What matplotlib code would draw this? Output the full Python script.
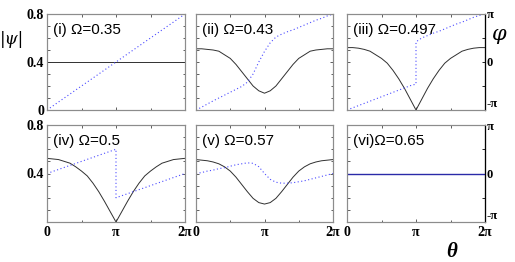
import numpy as np
import matplotlib
matplotlib.use("Agg")
import matplotlib.pyplot as plt
from matplotlib.ticker import FixedLocator, MultipleLocator

theta = np.arange(25) * np.pi / 12
# grid with a doubled point at pi for the phase jumps
theta_j = np.concatenate([theta[:13], theta[12:]])

omega_labels = ["(i) Ω=0.35", "(ii) Ω=0.43", "(iii) Ω=0.497",
                "(iv) Ω=0.5", "(v) Ω=0.57", "(vi)Ω=0.65"]

# |psi|
amp_i = [0.4] * 25
half_ii = [0.51, 0.51, 0.505, 0.50, 0.49, 0.46, 0.43, 0.38, 0.32, 0.26, 0.20, 0.16, 0.14]
amp_ii = half_ii + half_ii[-2::-1]
half_iii = [0.52, 0.52, 0.515, 0.505, 0.49, 0.46, 0.43, 0.39, 0.33, 0.26, 0.18, 0.09, 0.0]
amp_iii = half_iii + half_iii[-2::-1]
half_iv = [0.525, 0.52, 0.515, 0.50, 0.485, 0.455, 0.42, 0.38, 0.32, 0.25, 0.17, 0.085, 0.0]
amp_iv = half_iv + half_iv[-2::-1]
half_v = [0.515, 0.51, 0.505, 0.495, 0.48, 0.455, 0.42, 0.37, 0.31, 0.25, 0.195, 0.16, 0.148]
amp_v = half_v + half_v[-2::-1]
amp_vi = [0.4] * 25

# phase / pi
ph_i = [-1.0, -0.917, -0.833, -0.75, -0.667, -0.583, -0.5, -0.417, -0.333, -0.25,
        -0.167, -0.083, 0.0, 0.083, 0.167, 0.25, 0.333, 0.417, 0.5, 0.583,
        0.667, 0.75, 0.833, 0.917, 1.0]
ph_ii = [-1.0, -0.94, -0.875, -0.81, -0.75, -0.69, -0.63, -0.57, -0.51, -0.42,
         -0.25, 0.0, 0.22, 0.40, 0.52, 0.58, 0.63, 0.67, 0.72, 0.77,
         0.82, 0.87, 0.91, 0.96, 1.0]
ph_iii = [-1.0, -0.954, -0.908, -0.862, -0.816, -0.77, -0.724, -0.678, -0.632, -0.586,
          -0.54, -0.494, -0.46,
          0.42, 0.50, 0.55, 0.60, 0.64, 0.69, 0.74, 0.79, 0.83, 0.88, 0.93, 0.97, 1.0]
ph_iv = [0.0, 0.042, 0.083, 0.125, 0.167, 0.208, 0.25, 0.292, 0.333, 0.375,
         0.417, 0.458, 0.5,
         -0.5, -0.458, -0.417, -0.375, -0.333, -0.292, -0.25, -0.208, -0.167,
         -0.125, -0.083, -0.042, 0.0]
ph_v = [0.0, 0.02, 0.05, 0.07, 0.10, 0.12, 0.15, 0.18, 0.20, 0.22,
        0.21, 0.14, 0.0, -0.12, -0.18, -0.20, -0.20, -0.19, -0.17, -0.15,
        -0.12, -0.09, -0.06, -0.03, 0.0]
ph_vi = [0.0] * 25

amps = [amp_i, amp_ii, amp_iii, amp_iv, amp_v, amp_vi]
phases = [(theta, ph_i), (theta, ph_ii), (theta_j, ph_iii),
          (theta_j, ph_iv), (theta, ph_v), (theta, ph_vi)]

fig = plt.figure(figsize=(5.15, 2.62), dpi=100)
W, H = 515.0, 262.0
lefts = [47, 196, 347]
widths = [138, 137, 138]
tops = [14, 125]
heights = [96, 97]

serif = "Liberation Serif"
spine_col = "#8c8c8c"

for n in range(6):
    r, c = divmod(n, 3)
    ax = fig.add_axes([lefts[c] / W, 1 - (tops[r] + heights[r]) / H,
                       widths[c] / W, heights[r] / H])
    ax2 = ax.twinx()

    ax.plot(theta, amps[n], color="#303030", lw=0.7)
    tt, ph = phases[n]
    if n == 5:
        ax2.plot(tt, np.array(ph) * np.pi, color="#2a2aa8", lw=1.0)
    else:
        ax2.plot(tt, np.array(ph) * np.pi, color="#4b4bff", lw=0.8,
                 linestyle=(0, (1, 2.2)))

    ax.set_xlim(0, 2 * np.pi)
    ax.set_ylim(0, 0.8)
    ax2.set_ylim(-np.pi, np.pi)

    ax.xaxis.set_major_locator(FixedLocator([0, np.pi, 2 * np.pi]))
    ax.xaxis.set_minor_locator(FixedLocator([np.pi / 2, 3 * np.pi / 2]))
    ax.yaxis.set_major_locator(FixedLocator([0, 0.4, 0.8]))
    ax.yaxis.set_minor_locator(MultipleLocator(0.1))
    ax2.yaxis.set_major_locator(FixedLocator([-np.pi, 0, np.pi]))
    ax2.yaxis.set_minor_locator(FixedLocator([-np.pi / 2, np.pi / 2]))

    right_col = (c == 2)
    ax.tick_params(which="both", direction="in", top=True, right=not right_col,
                   length=2.5, width=0.6, color="#444444")
    ax.tick_params(which="minor", length=1.8)
    ax2.tick_params(which="both", direction="in", length=2.5, width=0.6,
                    right=right_col, labelright=right_col, pad=1)

    if r == 1:
        ax.set_xticklabels(["0", "π", "2π"], fontfamily=serif,
                           fontweight="bold", fontsize=10)
        ax.tick_params(axis="x", pad=3)
    else:
        ax.set_xticklabels([])
    if c == 0:
        ylabs = ["0", "0.4", "0.8"] if r == 0 else ["", "0.4", "0.8"]
        ax.set_yticklabels(ylabs, fontfamily=serif,
                           fontweight="bold", fontsize=10)
        ax.tick_params(axis="y", pad=2)
    else:
        ax.set_yticklabels([])
    if right_col:
        labs = ax2.set_yticklabels(["-π", "0", "π"], fontfamily=serif,
                                   fontweight="bold", fontsize=9)
        labs[0].set_va("bottom")
    else:
        ax2.set_yticklabels([])

    for sp in ax.spines.values():
        sp.set_color(spine_col)
        sp.set_linewidth(0.8)
    for name, sp in ax2.spines.items():
        if name == "right" and right_col:
            sp.set_color("black")
            sp.set_linewidth(0.9)
        else:
            sp.set_color(spine_col)
            sp.set_linewidth(0.8)

    ax2.text(0.045, 0.835, omega_labels[n], transform=ax.transAxes,
             fontfamily="Liberation Sans", fontsize=11, va="center", ha="left")

fig.text(12 / W, 1 - 40 / H, "|ψ|", fontfamily="DejaVu Serif", style="italic",
         fontsize=12, ha="center", va="center")
fig.text(499 / W, 1 - 34 / H, "φ", fontfamily="DejaVu Serif", style="italic",
         fontsize=15, ha="center", va="center")
fig.text(452 / W, 1 - 252 / H, "θ", fontfamily=serif, style="italic",
         fontweight="bold", fontsize=15, ha="center", va="center")

fig.savefig("out.png", dpi=100)
